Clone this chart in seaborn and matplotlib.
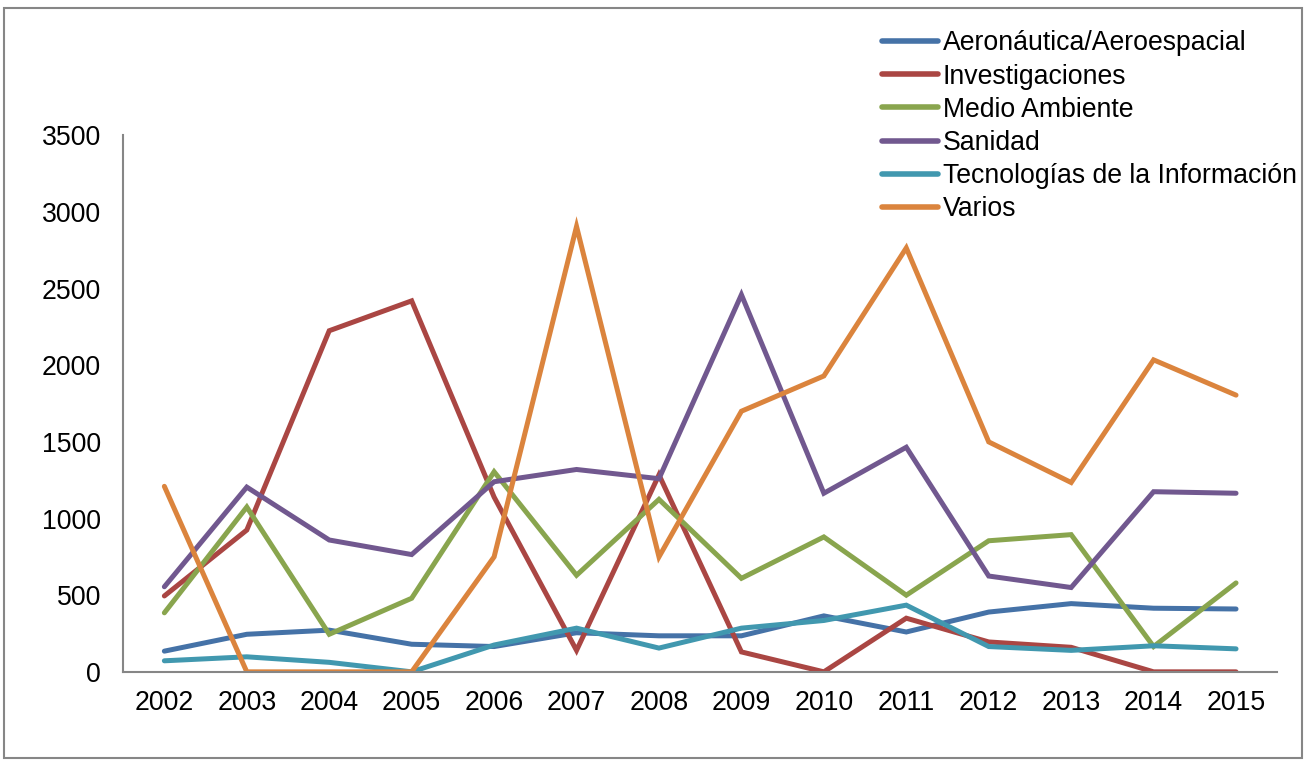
import matplotlib
matplotlib.use("Agg")
import matplotlib.pyplot as plt
from matplotlib.patches import Rectangle
import pandas as pd
import seaborn as sns

years = [2002, 2003, 2004, 2005, 2006, 2007, 2008, 2009, 2010, 2011, 2012, 2013, 2014, 2015]

aeronautica = [135, 245, 272, 180, 165, 255, 235, 235, 365, 260, 390, 445, 415, 410]
investigaciones = [495, 925, 2225, 2420, 1140, 140, 1285, 130, 0, 350, 195, 160, 0, 0]
medio_ambiente = [385, 1075, 245, 480, 1305, 630, 1125, 610, 880, 500, 855, 895, 165, 580]
sanidad = [555, 1205, 860, 765, 1240, 1320, 1260, 2460, 1165, 1465, 625, 550, 1175, 1165]
tecnologias = [72, 98, 62, 0, 175, 285, 155, 285, 335, 435, 165, 140, 170, 150]
varios = [1210, 0, 0, 0, 750, 2905, 750, 1700, 1930, 2765, 1500, 1235, 2035, 1805]

series_names = [
    "Aeronáutica/Aeroespacial",
    "Investigaciones",
    "Medio Ambiente",
    "Sanidad",
    "Tecnologías de la Información",
    "Varios",
]
series_values = [aeronautica, investigaciones, medio_ambiente, sanidad, tecnologias, varios]
colors = ["#4572A7", "#AA4643", "#89A54E", "#71588F", "#4198AF", "#DB843D"]

y_ticks = [0, 500, 1000, 1500, 2000, 2500, 3000, 3500]

rows = []
for name, vals in zip(series_names, series_values):
    for yr, v in zip(years, vals):
        rows.append({"Año": yr, "Valor": v, "Serie": name})
df = pd.DataFrame(rows)

sns.set_theme(style="white")
plt.rcParams["font.family"] = ["Liberation Sans", "DejaVu Sans"]
plt.rcParams["text.color"] = "black"

fig = plt.figure(figsize=(13.1, 7.6), dpi=100)
ax = fig.add_axes([0.094, 0.116, 0.881, 0.706])

sns.lineplot(
    data=df, x="Año", y="Valor", hue="Serie", hue_order=series_names,
    palette=colors, linewidth=3.6, ax=ax, legend=True,
)
for line in ax.get_lines():
    line.set_solid_capstyle("round")
    line.set_solid_joinstyle("miter")

ax.set_xlim(years[0] - 0.5, years[-1] + 0.5)
ax.set_ylim(0, 3500)
ax.set_xticks(years)
ax.set_xticklabels([str(y) for y in years])
ax.set_yticks(y_ticks)
ax.set_yticklabels([str(t) for t in y_ticks])
ax.set_xlabel("")
ax.set_ylabel("")
ax.tick_params(axis="both", length=0, labelsize=19.2, colors="black")
ax.tick_params(axis="y", pad=16)
ax.tick_params(axis="x", pad=13)

for side in ["top", "right"]:
    ax.spines[side].set_visible(False)
for side in ["left", "bottom"]:
    ax.spines[side].set_color("#868686")
    ax.spines[side].set_linewidth(1.5)

handles, labels = ax.get_legend_handles_labels()
ax.legend_.remove()
leg = fig.legend(
    handles, labels, loc="upper left", bbox_to_anchor=(0.673, 0.96),
    frameon=False, fontsize=19.2, handlelength=2.1, handletextpad=0.2,
    labelspacing=0.27, borderpad=0, borderaxespad=0, labelcolor="black",
)
for lh in leg.get_lines():
    lh.set_linewidth(4)

# outer chart border
fig.patches.append(Rectangle((0.003, 0.003), 0.991, 0.987, transform=fig.transFigure,
                             fill=False, edgecolor="#868686", linewidth=1.5))

fig.savefig("out.png", dpi=100, facecolor="white")
